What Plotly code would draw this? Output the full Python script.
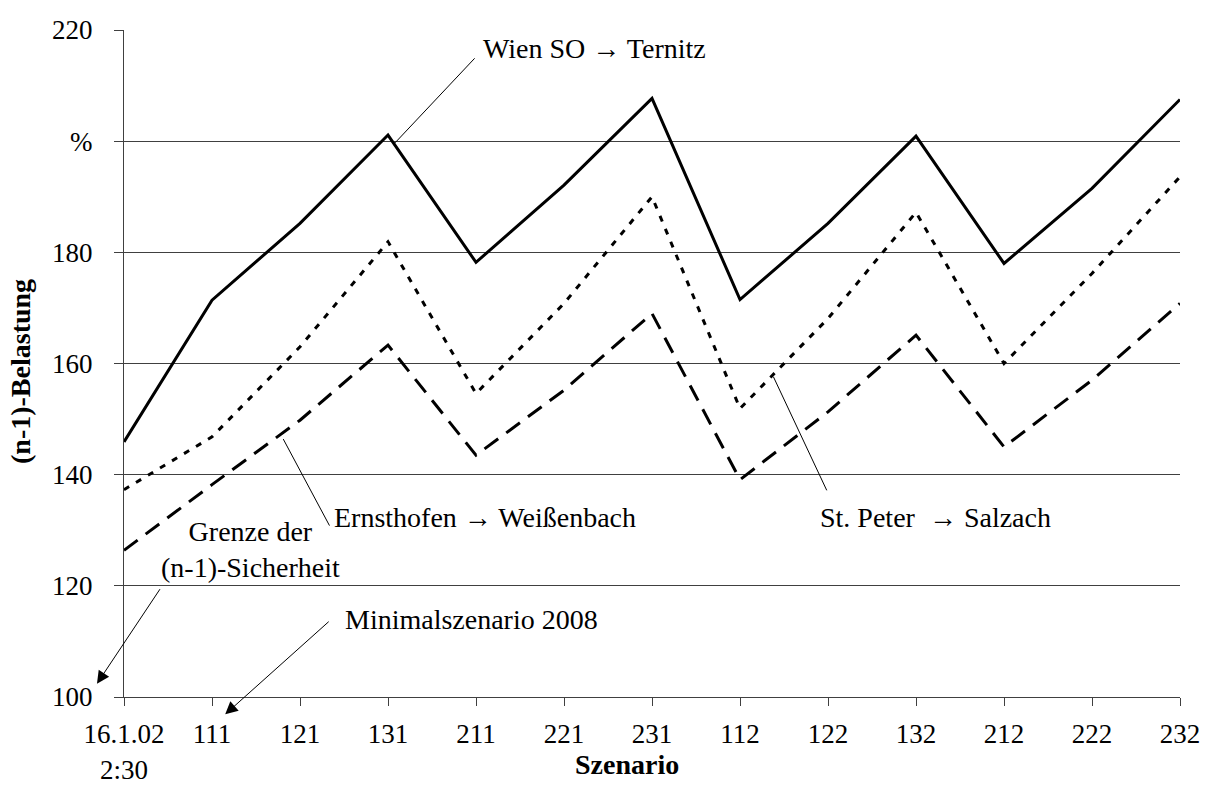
import plotly.graph_objects as go

categories = ["16.1.02<br>2:30", "111", "121", "131", "211", "221", "231",
              "112", "122", "132", "212", "222", "232"]
wien_ternitz = [145.9, 171.4, 185.2, 201.1, 178.2, 192.1, 207.7,
                171.5, 185.2, 200.9, 178.0, 191.5, 207.5]
st_peter_salzach = [137.3, 146.8, 163.0, 181.9, 154.6, 170.8, 190.0,
                    151.9, 168.1, 187.2, 160.0, 176.2, 193.6]
ernsthofen_weissenbach = [126.4, 138.2, 149.8, 163.3, 143.5, 155.2, 169.0,
                          139.1, 151.3, 165.1, 145.0, 157.0, 170.8]
y_tickvals = [100, 120, 140, 160, 180, 200, 220]
y_ticktext = ["100", "120", "140", "160", "180", "%", "220"]

FONT = "Times New Roman, Liberation Serif, serif"
FS = 27
AFS = 28

fig = go.Figure()
fig.add_trace(go.Scatter(x=categories, y=wien_ternitz, mode="lines",
                         line=dict(color="black", width=3), name="Wien SO → Ternitz"))
fig.add_trace(go.Scatter(x=categories, y=st_peter_salzach, mode="lines",
                         line=dict(color="black", width=3, dash="6px,8px"),
                         name="St. Peter → Salzach"))
fig.add_trace(go.Scatter(x=categories, y=ernsthofen_weissenbach, mode="lines",
                         line=dict(color="black", width=3, dash="17px,10px"),
                         name="Ernsthofen → Weißenbach"))

ann = []
txt = dict(showarrow=False, font=dict(family=FONT, size=AFS, color="black"))
# labels
ann.append(dict(text="Wien SO → Ternitz", x=4.06, y=216.6, xref="x", yref="y",
                xanchor="left", yanchor="middle", **txt))
ann.append(dict(text="Ernsthofen → Weißenbach", x=2.366, y=132.3, xref="x", yref="y",
                xanchor="left", yanchor="middle", **txt))
ann.append(dict(text="St. Peter  → Salzach", x=7.887, y=132.3, xref="x", yref="y",
                xanchor="left", yanchor="middle", **txt))
ann.append(dict(text="Grenze der<br>(n-1)-Sicherheit", x=1.435, y=126.5, xref="x", yref="y",
                xanchor="center", yanchor="middle", **txt))
ann.append(dict(text="Minimalszenario 2008", x=2.49, y=114.0, xref="x", yref="y",
                xanchor="left", yanchor="middle", **txt))
# leader lines
lead = dict(text="", showarrow=True, arrowhead=0, arrowwidth=1, arrowcolor="black",
            axref="pixel", ayref="pixel")
ann.append(dict(x=3.08, y=199.7, xref="x", yref="y", ax=81, ay=-86, **lead))
ann.append(dict(x=1.81, y=146.4, xref="x", yref="y", ax=47, ay=88, **lead))
ann.append(dict(x=7.38, y=157.6, xref="x", yref="y", ax=54, ay=115, **lead))
# arrows
arr = dict(text="", showarrow=True, arrowhead=2, arrowsize=2.5, arrowwidth=1,
           arrowcolor="black")
ann.append(dict(x=-0.0256, y=102.4, xref="paper", yref="y", ax=64, ay=-96, **arr))
ann.append(dict(x=1.15, y=-0.026, xref="x", yref="paper", ax=105, ay=-94, **arr))
# axis titles
ann.append(dict(text="<b>(n-1)-Belastung</b>", x=-0.098, y=0.488, xref="paper", yref="paper",
                textangle=-90, xanchor="center", yanchor="middle", **txt))
ann.append(dict(text="<b>Szenario</b>", x=0.4765, y=-0.101, xref="paper", yref="paper",
                xanchor="center", yanchor="middle", **txt))

fig.update_layout(
    width=1205, height=785,
    margin=dict(l=124, r=25, t=30, b=88),
    paper_bgcolor="white", plot_bgcolor="white",
    showlegend=False,
    font=dict(family=FONT, size=FS, color="black"),
    annotations=ann,
    xaxis=dict(type="category", range=[0, 12], showline=True, linecolor="#404040",
               linewidth=1, ticks="outside", ticklen=8, tickcolor="#404040",
               showgrid=False, zeroline=False, ticklabelstandoff=5, automargin=False,
               tickfont=dict(family=FONT, size=FS, color="black")),
    yaxis=dict(range=[100, 220], tickvals=y_tickvals, ticktext=y_ticktext,
               showline=True, linecolor="#404040", linewidth=1, ticks="outside",
               ticklen=9, tickcolor="#404040", showgrid=True, gridcolor="#404040",
               gridwidth=1, zeroline=False, ticklabelstandoff=16, automargin=False,
               tickfont=dict(family=FONT, size=FS, color="black")),
)

fig.write_html("out.html", config={"displayModeBar": False},
               post_script="document.body.style.margin='0';")
